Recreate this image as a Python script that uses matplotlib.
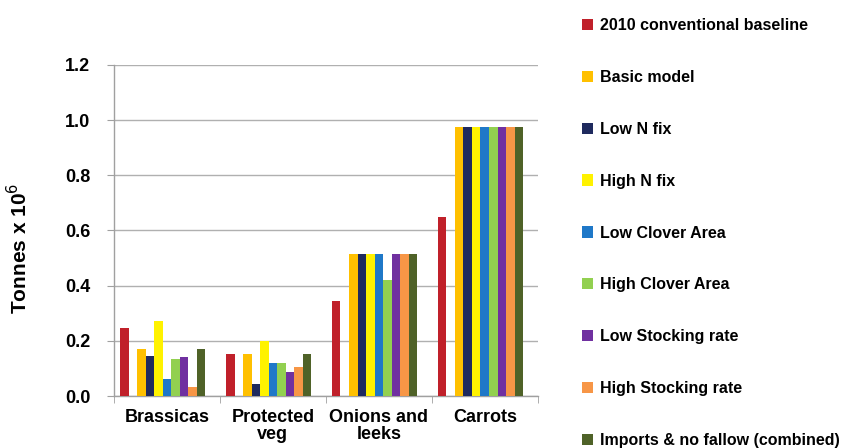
import numpy as np
import matplotlib
matplotlib.use("Agg")
import matplotlib.pyplot as plt

plt.rcParams['font.family'] = ['Liberation Sans', 'DejaVu Sans']

categories = ["Brassicas", "Protected\nveg", "Onions and\nleeks", "Carrots"]
series_names = [
    "2010 conventional baseline",
    "Basic model",
    "Low N fix",
    "High N fix",
    "Low Clover Area",
    "High Clover Area",
    "Low Stocking rate",
    "High Stocking rate",
    "Imports & no fallow (combined)",
]
colors = ["#C0202A", "#FFC000", "#1F2A5E", "#FFF200", "#1F78C8",
          "#92D050", "#7030A0", "#F79646", "#4F6228"]

baseline_2010 = [0.247, 0.153, 0.343, 0.650]
basic_model = [0.169, 0.153, 0.515, 0.975]
low_n_fix = [0.144, 0.043, 0.515, 0.975]
high_n_fix = [0.272, 0.199, 0.515, 0.975]
low_clover = [0.063, 0.121, 0.515, 0.975]
high_clover = [0.136, 0.121, 0.420, 0.975]
low_stocking = [0.142, 0.088, 0.515, 0.975]
high_stocking = [0.032, 0.106, 0.515, 0.975]
imports_no_fallow = [0.169, 0.153, 0.515, 0.975]

values = [baseline_2010, basic_model, low_n_fix, high_n_fix, low_clover,
          high_clover, low_stocking, high_stocking, imports_no_fallow]

# 11 slots per category: red, empty, 8 scenarios, empty (as in the original)
slots = [0, 2, 3, 4, 5, 6, 7, 8, 9]
n_slots = 11
width = 0.885 / n_slots

fig = plt.figure(figsize=(8.46, 4.48), dpi=100)
ax = fig.add_axes([0.1348, 0.116, 0.5008, 0.739])

x = np.arange(len(categories))
for i, (name, vals) in enumerate(zip(series_names, values)):
    offs = (slots[i] - (n_slots - 1) / 2) * width
    ax.bar(x + offs, vals, width, color=colors[i], label=name, zorder=3)

ax.set_xlim(-0.5, len(categories) - 0.5)
ax.set_ylim(0, 1.2)
yt = np.arange(0, 1.21, 0.2)
ax.set_yticks(yt)
ax.set_yticklabels([f"{v:.1f}" for v in yt], fontsize=13, fontweight='bold')
ax.set_xticks(x)
ax.set_xticklabels(categories, fontsize=13, fontweight='bold', linespacing=1.0)
ax.set_xticks(np.arange(-0.5, len(categories), 1), minor=True)
ax.tick_params(axis='x', which='major', length=0, pad=9)
ax.tick_params(axis='x', which='minor', length=5, color='#A0A0A0')
ax.tick_params(axis='y', length=5, color='#A0A0A0', pad=12)

ax.yaxis.grid(True, color='#B0B0B0', linewidth=1.0, zorder=0)
for s in ['top', 'right']:
    ax.spines[s].set_visible(False)
for s in ['left', 'bottom']:
    ax.spines[s].set_color('#A0A0A0')
    ax.spines[s].set_linewidth(1.0)

# y axis title placed in figure coordinates
fig.text(0.0225, 0.445, "Tonnes x 10$^6$", rotation=90, ha='center',
         va='center', fontsize=15, fontweight='bold')

fig.legend(loc='upper left', bbox_to_anchor=(0.688, 0.96), frameon=False,
           prop={'size': 11.5, 'weight': 'bold'}, handlelength=0.7,
           handleheight=0.7, handletextpad=0.45, labelspacing=2.31,
           borderpad=0, borderaxespad=0)

fig.savefig("out.png", dpi=100)
